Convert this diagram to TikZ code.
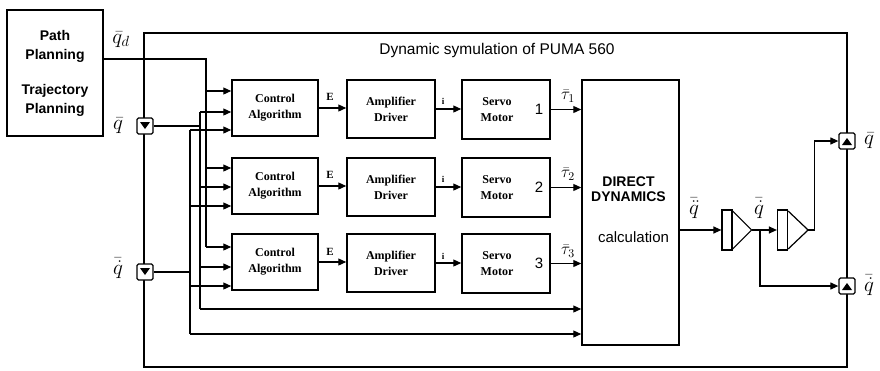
\RequirePackage{fix-cm}
\documentclass[tikz,border=0pt]{standalone}
\usepackage{fontspec}
\setmainfont{Liberation Serif}
\setsansfont{Liberation Sans}
\usetikzlibrary{arrows.meta,calc}
\begin{document}
\begin{tikzpicture}[x=1pt,y=-1pt,
  blk/.style={draw, line width=1.5pt, minimum width=86pt, minimum height=56pt, inner sep=0pt, align=center,
    font=\fontsize{12}{16}\selectfont\bfseries},
  arr/.style={line width=1.2pt, -{Triangle[length=8pt,width=7pt]}},
  ln/.style={line width=1.2pt},
  lbl/.style={font=\fontsize{21}{21}\selectfont, inner sep=0pt},
  tlbl/.style={font=\fontsize{17}{17}\selectfont, inner sep=0pt},
  small/.style={font=\fontsize{11}{11}\selectfont\bfseries, inner sep=0pt},
  port/.style={draw, line width=1.3pt, fill=white, minimum width=16pt, minimum height=16pt, rounded corners=1.5pt, inner sep=0pt},
  integ/.style={draw, line width=1.2pt, minimum width=10pt, minimum height=40pt, inner sep=0pt}]
\useasboundingbox (0,0) rectangle (880,370);

% outer frame
\node[draw, line width=2.6pt, minimum width=703pt, minimum height=334pt, inner sep=0pt] (sim) at (495.5,200) {};
\node[font=\sffamily\fontsize{15.5}{15.5}\selectfont, inner sep=0pt] (title) at (497,50) {Dynamic symulation of PUMA 560};

% path planning
\node[draw, line width=1.5pt, minimum width=96pt, minimum height=126pt, align=center,
  font=\sffamily\bfseries\fontsize{14}{19}\selectfont] (pp) at (55,73) {Path\\Planning\\[16pt]Trajectory\\Planning};

% blocks
\foreach \r/\y in {1/108,2/186,3/262}{
  \node[blk] (ca\r) at (275,\y) {Control\\Algorithm};
  \node[blk, minimum width=88pt, minimum height=58pt] (ad\r) at (391,\y+1) {Amplifier\\Driver};
  \node[blk, minimum width=88pt, minimum height=59pt] (sm\r) at (506,\y+1.5) {};
  \node[font=\fontsize{12}{16}\selectfont\bfseries, align=center, inner sep=0pt] at ($(sm\r)+(-9,0)$) {Servo\\Motor};
  \node[font=\sffamily\fontsize{15}{15}\selectfont, inner sep=0pt] at ($(sm\r)+(33,0)$) {\r};
}
\node[draw, line width=1.5pt, minimum width=97pt, minimum height=265pt, inner sep=0pt] (dd) at (630.5,212.5) {};
\node[font=\sffamily\bfseries\fontsize{14}{15}\selectfont, align=center, inner sep=0pt] at ($(dd)+(-2,-23)$) {DIRECT\\DYNAMICS};
\node[font=\sffamily\fontsize{15}{15}\selectfont, inner sep=0pt] at ($(dd)+(3,25)$) {calculation};

% row connectors
\foreach \r in {1,2,3}{
  \draw[arr] (ca\r.east) -- (ca\r.east -| ad\r.west);
  \draw[arr] (ad\r.east) -- (ad\r.east -| sm\r.west);
  \draw[arr] (sm\r.east) -- (sm\r.east -| dd.west);
}
\foreach \r/\y in {1/97,2/175,3/252}{
  \node[small] at (330,\y) {E};
  \node[small, font=\fontsize{9}{9}\selectfont\bfseries] at (443,\y+4) {i};
  \node[tlbl] at (568,\y-1) {$\bar\tau_{\r}$};
}

% left ports
\node[port] (lp1) at (145,126) {};
\node[port] (lp2) at (145,272) {};
\fill ($(lp1)+(-5,-4)$) -- ($(lp1)+(5,-4)$) -- ($(lp1)+(0,3)$) -- cycle;
\fill ($(lp2)+(-5,-4)$) -- ($(lp2)+(5,-4)$) -- ($(lp2)+(0,3)$) -- cycle;
\node[lbl] at (121,40) {$\bar q_d$};
\node[lbl] at (118,126) {$\bar q$};
\node[lbl] at (118,268) {$\bar{\dot q}$};

% q_d bus
\coordinate (bd) at (206,59);
\draw[ln] (pp.east |- bd) -- (bd) -- (206,247);
\draw[arr] (206,91) -- (ca1.west |- 0,91);
\draw[arr] (206,168) -- (ca2.west |- 0,168);
\draw[arr] (206,247) -- (ca3.west |- 0,247);

% q bus
\coordinate (bq) at (200,126);
\draw[ln] (lp1.east) -- (bq);
\draw[ln] (200,112) -- (200,309);
\draw[arr] (200,112) -- (ca1.west |- 0,112);
\draw[arr] (200,187) -- (ca2.west |- 0,187);
\draw[arr] (200,267) -- (ca3.west |- 0,267);
\draw[arr] (200,309) -- (dd.west |- 0,309);

% q dot bus
\coordinate (bv) at (190,272);
\draw[ln] (lp2.east) -- (bv);
\draw[ln] (190,130) -- (190,334);
\draw[arr] (190,130) -- (ca1.west |- 0,130);
\draw[arr] (190,206) -- (ca2.west |- 0,206);
\draw[arr] (190,286) -- (ca3.west |- 0,286);
\draw[arr] (190,334) -- (dd.west |- 0,334);

% integrators
\node[integ] (in1) at (727,230) {};
\node[integ] (in2) at (782.5,230) {};
\draw[line width=1.2pt] ($(in1.east)+(0,-19)$) -- ($(in1.east)+(19,0)$) coordinate (ap1) -- ($(in1.east)+(0,19)$);
\draw[line width=1.2pt] ($(in2.east)+(0,-19)$) -- ($(in2.east)+(20,0)$) coordinate (ap2) -- ($(in2.east)+(0,19)$);

% right ports
\node[port] (rp1) at (847,141) {};
\node[port] (rp2) at (847,286) {};
\fill ($(rp1)+(-5,4)$) -- ($(rp1)+(5,4)$) -- ($(rp1)+(0,-3)$) -- cycle;
\fill ($(rp2)+(-5,4)$) -- ($(rp2)+(5,4)$) -- ($(rp2)+(0,-3)$) -- cycle;
\node[lbl] at (869,141) {$\bar q$};
\node[lbl] at (869,285) {$\bar{\dot q}$};

\draw[arr] (dd.east |- in1) -- (in1.west);
\draw[arr] (ap1) -- (in2.west);
\coordinate (br) at (760,230);
\draw[arr] (br) |- (rp2.west);
\draw[arr] (ap2) -- ++(6,0) |- (rp1.west);
\node[lbl] at (694,208) {$\bar{\ddot q}$};
\node[lbl] at (759,208) {$\bar{\dot q}$};
\end{tikzpicture}
\end{document}
